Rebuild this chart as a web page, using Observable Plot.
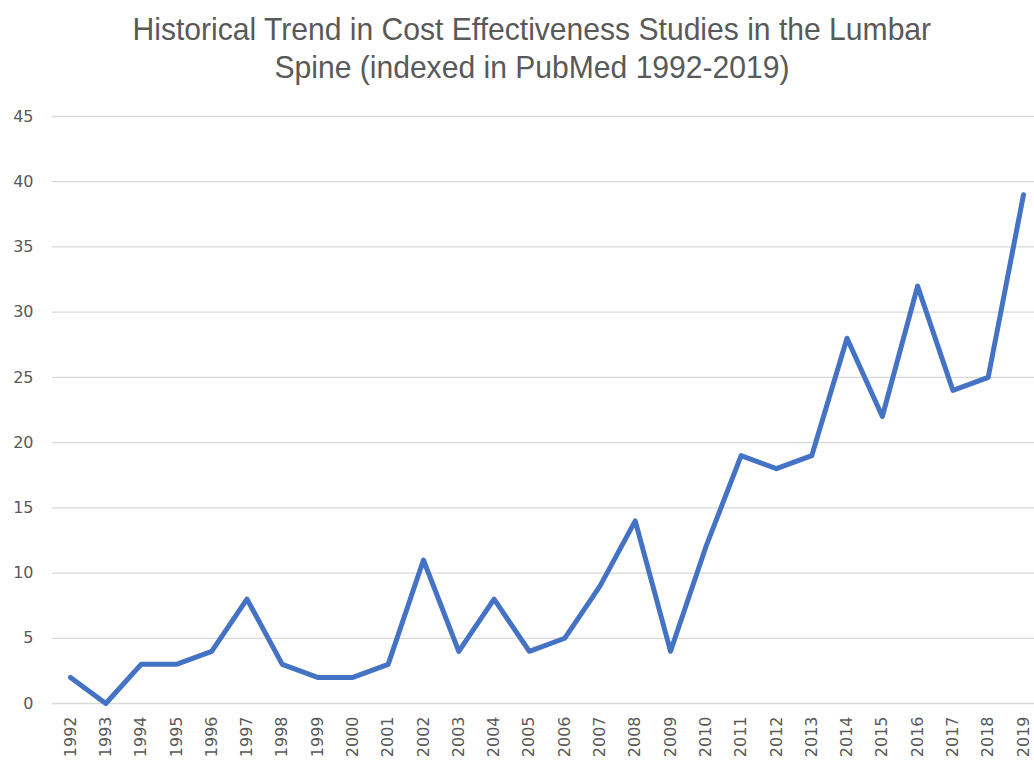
<!DOCTYPE html>
<html>
<head>
<meta charset="utf-8">
<script src="https://cdn.jsdelivr.net/npm/d3@7"></script>
<script src="https://cdn.jsdelivr.net/npm/@observablehq/plot@0.6"></script>
<style>
  html, body { margin: 0; padding: 0; background: #fff; }
  #title {
    box-sizing: border-box; height: 100px; width: 1034px; padding-top: 10px; padding-left: 30px;
    text-align: center; font-family: "Liberation Sans", sans-serif;
    font-size: 32px; line-height: 38px; color: #595959;
  }
  #title span { display: inline-block; transform: scaleX(0.94); transform-origin: 50% 50%; white-space: nowrap; }
</style>
</head>
<body>
<div id="title"><span>Historical Trend in Cost Effectiveness Studies in the Lumbar</span><br><span>Spine (indexed in PubMed 1992-2019)</span></div>
<div id="chart"></div>
<script>
const years = [1992,1993,1994,1995,1996,1997,1998,1999,2000,2001,2002,2003,2004,2005,2006,2007,2008,2009,2010,2011,2012,2013,2014,2015,2016,2017,2018,2019];
const studies = [2,0,3,3,4,8,3,2,2,3,11,4,8,4,5,9,14,4,12,19,18,19,28,22,32,24,25,39];
const yTicks = [0,5,10,15,20,25,30,35,40,45];

const data = years.map((y, i) => ({year: y, value: studies[i]}));

const chart = Plot.plot({
  width: 1034,
  height: 660,
  marginLeft: 52,
  marginRight: 0,
  marginTop: 16,
  marginBottom: 57,
  insetLeft: 18,
  insetRight: 11,
  style: {fontFamily: "DejaVu Sans, sans-serif", fontSize: "16px", color: "#595959", background: "#fff"},
  x: {domain: [1992, 2019], label: null},
  y: {domain: [0, 45], label: null},
  marks: [
    Plot.ruleY(yTicks, {stroke: "#d9d9d9", strokeWidth: 1.3}),
    Plot.axisY({ticks: yTicks, tickSize: 0, tickPadding: 19, label: null, fill: "#595959", fontSize: 16}),
    Plot.axisX({ticks: years, tickFormat: d => String(d), tickSize: 0, tickRotate: -90, tickPadding: 13, label: null, fill: "#595959", fontSize: 16}),
    Plot.line(data, {x: "year", y: "value", stroke: "#4472C4", strokeWidth: 5, strokeLinejoin: "round", strokeLinecap: "round"})
  ]
});
document.getElementById("chart").appendChild(chart);
</script>
</body>
</html>
